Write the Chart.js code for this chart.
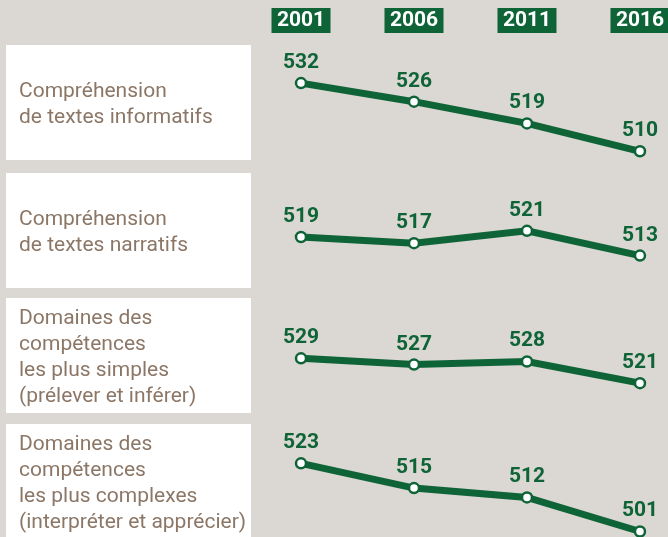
<!DOCTYPE html>
<html>
<head>
<meta charset="utf-8">
<script src="https://cdn.jsdelivr.net/npm/chart.js@4"></script>
<style>
    html, body { margin: 0; padding: 0; background: #dbd7d2; }
    #chart { display: block; }
</style>
</head>
<body>
<canvas id="chart" width="668" height="537"></canvas>
<script>
// data
const years = [2001, 2006, 2011, 2016];
const rowLabels = [
    ['Compréhension', 'de textes informatifs'],
    ['Compréhension', 'de textes narratifs'],
    ['Domaines des', 'compétences', 'les plus simples', '(prélever et inférer)'],
    ['Domaines des', 'compétences', 'les plus complexes', '(interpréter et apprécier)']
];
const informatifs = [532, 526, 519, 510];
const narratifs = [519, 517, 521, 513];
const plusSimples = [529, 527, 528, 521];
const plusComplexes = [523, 515, 512, 501];
const series = [informatifs, narratifs, plusSimples, plusComplexes];

const COLORS = {
    bg: '#dbd7d2',
    green: '#0e6437',
    text: '#8c7767',
    box: '#ffffff'
};

// layout: each row gets its own hidden y axis, same px per point
const PX_PER_POINT = 3.1;
const ROW_AXIS_MAX = [558.8, 595.45, 644.6, 672.45];
const BOX_TOPS = [45, 173, 298, 424];
const BOX_HEIGHT = 115;

const canvas = document.getElementById('chart');
const span = canvas.height / PX_PER_POINT;

const scales = {
    x: {
        type: 'linear',
        display: false,
        min: 1987.68,
        max: 2017.24
    }
};
ROW_AXIS_MAX.forEach((mx, i) => {
    scales['y' + i] = {
        type: 'linear',
        display: false,
        min: mx - span,
        max: mx
    };
});

const datasets = series.map((vals, i) => ({
    data: vals.map((v, j) => ({ x: years[j], y: v })),
    yAxisID: 'y' + i,
    borderColor: COLORS.green,
    borderWidth: 7,
    pointRadius: 5,
    pointBorderWidth: 2.5,
    pointBackgroundColor: '#ffffff',
    pointBorderColor: COLORS.green,
    tension: 0,
    clip: false
}));

const decorPlugin = {
    id: 'decor',
    beforeDatasetsDraw(chart) {
        const ctx = chart.ctx;
        ctx.save();
        // left label boxes
        BOX_TOPS.forEach((top, i) => {
            ctx.fillStyle = COLORS.box;
            ctx.fillRect(6, top, 245, BOX_HEIGHT);
            const lines = rowLabels[i];
            const lh = 26;
            const mid = top + BOX_HEIGHT / 2 + 7;
            const first = mid - (lines.length - 1) * lh / 2;
            ctx.fillStyle = COLORS.text;
            ctx.font = '21px Roboto';
            ctx.textAlign = 'left';
            ctx.textBaseline = 'alphabetic';
            lines.forEach((ln, k) => ctx.fillText(ln, 19, first + k * lh));
        });
        // year headers
        const xs = chart.scales.x;
        ctx.font = 'bold 21px Roboto';
        ctx.textAlign = 'center';
        ctx.textBaseline = 'middle';
        years.forEach(yr => {
            const px = xs.getPixelForValue(yr);
            ctx.fillStyle = COLORS.green;
            ctx.fillRect(px - 29.5, 8, 59, 25);
            ctx.fillStyle = '#ffffff';
            ctx.fillText(String(yr), px, 21);
        });
        ctx.restore();
    },
    afterDatasetsDraw(chart) {
        const ctx = chart.ctx;
        ctx.save();
        ctx.font = 'bold 21px Roboto';
        ctx.fillStyle = COLORS.green;
        ctx.textAlign = 'center';
        ctx.textBaseline = 'alphabetic';
        chart.data.datasets.forEach((ds, i) => {
            const meta = chart.getDatasetMeta(i);
            meta.data.forEach((pt, j) => {
                ctx.fillText(String(series[i][j]), pt.x, pt.y - 15);
            });
        });
        ctx.restore();
    }
};

new Chart(canvas.getContext('2d'), {
    type: 'line',
    data: { datasets },
    options: {
        responsive: false,
        animation: false,
        layout: { padding: 0, autoPadding: false },
        scales,
        plugins: {
            legend: { display: false },
            tooltip: { enabled: false }
        }
    },
    plugins: [decorPlugin]
});
</script>
</body>
</html>
